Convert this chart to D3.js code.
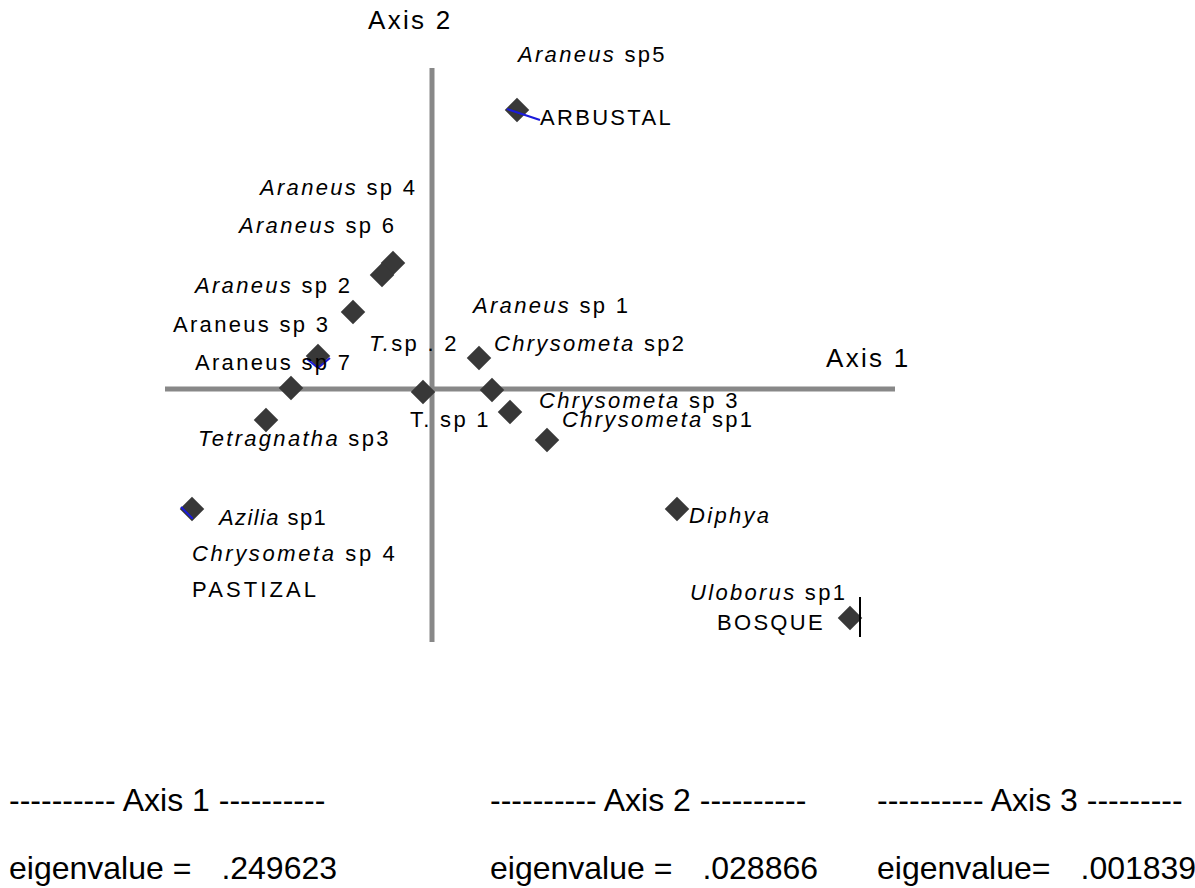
<!DOCTYPE html>
<html>
<head>
<meta charset="utf-8">
<script src="https://cdn.jsdelivr.net/npm/d3@7"></script>
<style>
  html, body { margin: 0; padding: 0; background: #fff; }
  text { font-family: "Liberation Sans", Arial, sans-serif; fill: #000; white-space: pre; }
</style>
</head>
<body>
<div id="chart"></div>
<script>

// site / species scores on the two ordination axes
const pointAxis1 = [0.85, -0.39, -0.50, -0.79, -1.14, -1.41, -0.09, -1.66, 0.47, 0.60, 0.78, 1.15, -2.40, 2.45, 4.18];
const pointAxis2 = [2.79, 1.26, 1.14, 0.77, 0.33, 0.01, -0.03, -0.31, 0.31, -0.01, -0.23, -0.51, -1.20, -1.20, -2.29];

// labels: italic genus part, plain part, anchor in axis units
const labelItalic = ['Araneus', '', 'Araneus', 'Araneus', 'Araneus', '', '', 'T.', 'Araneus', 'Chrysometa',
  'Chrysometa', '', 'Chrysometa', 'Tetragnatha', 'Azilia', 'Chrysometa', '', 'Diphya', 'Uloborus', ''];
const labelPlain = [' sp5', 'ARBUSTAL', ' sp 4', ' sp 6', ' sp 2', 'Araneus sp 3', 'Araneus sp 7', 'sp . 2', ' sp 1', ' sp2',
  ' sp 3', 'T. sp 1', ' sp1', ' sp3', ' sp1', ' sp 4', 'PASTIZAL', '', ' sp1', 'BOSQUE'];
const labelAxis1 = [0.86, 1.08, -1.72, -1.93, -2.37, -2.59, -2.37, -0.63, 0.41, 0.62,
  1.07, -0.22, 1.30, -2.34, -2.13, -2.40, -2.40, 2.57, 2.58, 2.85];
const labelAxis2 = [3.27, 2.64, 1.94, 1.56, 0.96, 0.57, 0.19, 0.38, 0.76, 0.38,
  -0.19, -0.38, -0.38, -0.57, -1.36, -1.72, -2.08, -1.34, -2.11, -2.41];

// stray vector strokes left in the original plot
const vectorAxis1 = [[0.75, 1.08], [-1.25, -1.14, -1.02], [-2.51, -2.40, -2.40], [4.28, 4.28]];
const vectorAxis2 = [[2.80, 2.69], [0.30, 0.21, 0.31], [-1.18, -1.29, -1.30], [-2.08, -2.48]];
const vectorColor = ['#1a1adb', '#1a1adb', '#1a1adb', '#000'];

const axisTitles = ['Axis 1', 'Axis 2'];
const eigenHeaders = ['---------- Axis 1 ----------', '---------- Axis 2 ----------', '---------- Axis 3 ---------'];
const eigenLabels = ['eigenvalue =', 'eigenvalue =', 'eigenvalue='];
const eigenValues = ['.249623', '.028866', '.001839'];

const width = 1195;
const height = 888;

const svg = d3.select('#chart')
  .append('svg')
  .attr('width', width)
  .attr('height', height);

const x = d3.scaleLinear().domain([-2.67, 4.63]).range([165, 895]);
const y = d3.scaleLinear().domain([-2.53, 3.21]).range([642, 68]);

// cross-hair axes
svg.append('line')
  .attr('x1', x(-2.67)).attr('x2', x(4.63))
  .attr('y1', y(0)).attr('y2', y(0))
  .style('stroke', '#888').style('stroke-width', 5);
svg.append('line')
  .attr('x1', x(0)).attr('x2', x(0))
  .attr('y1', y(3.21)).attr('y2', y(-2.53))
  .style('stroke', '#888').style('stroke-width', 5);

// diamonds
const diamond = d3.symbol().type(d3.symbolSquare).size(300);
svg.selectAll('path.pt')
  .data(pointAxis1)
  .enter()
  .append('path')
  .attr('class', 'pt')
  .attr('d', diamond)
  .attr('transform', (d, i) => `translate(${x(d)}, ${y(pointAxis2[i])}) rotate(45)`)
  .style('fill', '#383838');

// vector strokes
const lineGen = d3.line().x(d => x(d[0])).y(d => y(d[1]));
svg.selectAll('path.vec')
  .data(vectorAxis1)
  .enter()
  .append('path')
  .attr('class', 'vec')
  .attr('d', (d, i) => lineGen(d.map((v, j) => [v, vectorAxis2[i][j]])))
  .style('fill', 'none')
  .style('stroke', (_, i) => vectorColor[i])
  .style('stroke-width', 2);

// species / site labels, typed with widened character spacing
const spacingOverride = { 14: 1.4, 15: 2.6, 16: 3.1 };
const labels = svg.selectAll('text.lab')
  .data(labelAxis1)
  .enter()
  .append('text')
  .attr('class', 'lab')
  .attr('x', d => x(d))
  .attr('y', (d, i) => y(labelAxis2[i]))
  .style('font-size', '22px')
  .style('letter-spacing', (_, i) => (i in spacingOverride ? spacingOverride[i] : 2.3) + 'px');
labels.append('tspan')
  .style('font-style', 'italic')
  .text((_, i) => labelItalic[i]);
labels.append('tspan')
  .text((_, i) => labelPlain[i]);

// axis titles
svg.append('text')
  .attr('x', x(0) - 64)
  .attr('y', 29)
  .style('font-size', '26px')
  .style('letter-spacing', '2.3px')
  .text(axisTitles[1]);
svg.append('text')
  .attr('x', x(3.94))
  .attr('y', y(0) - 22)
  .style('font-size', '26px')
  .style('letter-spacing', '2.3px')
  .text(axisTitles[0]);

// eigenvalue table
const colX = [9, 490, 877];
svg.selectAll('text.hdr')
  .data(eigenHeaders)
  .enter()
  .append('text')
  .attr('class', 'hdr')
  .attr('x', (_, i) => colX[i])
  .attr('y', 811)
  .style('font-size', '32px')
  .text(d => d);

const eig = svg.selectAll('text.eig')
  .data(eigenValues)
  .enter()
  .append('text')
  .attr('class', 'eig')
  .attr('x', (_, i) => colX[i])
  .attr('y', 879)
  .style('font-size', '32px');
eig.append('tspan').text((_, i) => eigenLabels[i]);
eig.append('tspan').attr('dx', 30).text(d => d);

</script>
</body>
</html>
